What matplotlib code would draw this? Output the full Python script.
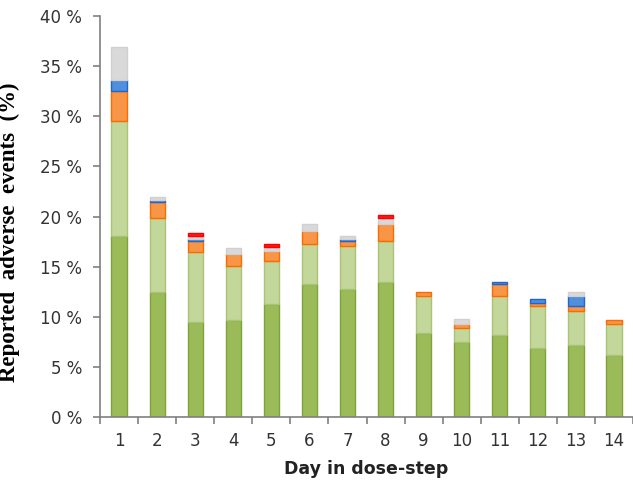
import numpy as np
import matplotlib
matplotlib.use("Agg")
import matplotlib.pyplot as plt
from matplotlib.ticker import FixedLocator

# values (percent of patients, stacked)
days = np.arange(1, 15)
dark_green = [18.1, 12.5, 9.5, 9.7, 11.3, 13.3, 12.8, 13.5, 8.4, 7.5, 8.2, 6.9, 7.2, 6.2]
light_green = [11.4, 7.4, 7.0, 5.4, 4.3, 4.0, 4.3, 4.1, 3.7, 1.4, 3.9, 4.2, 3.4, 3.1]
orange = [3.0, 1.5, 1.1, 1.2, 1.0, 1.3, 0.5, 1.7, 0.4, 0.4, 1.2, 0.3, 0.5, 0.4]
blue = [1.1, 0.2, 0.2, 0.0, 0.0, 0.0, 0.2, 0.0, 0.0, 0.0, 0.2, 0.4, 1.0, 0.0]
grey = [3.3, 0.3, 0.3, 0.6, 0.4, 0.7, 0.3, 0.6, 0.0, 0.5, 0.0, 0.0, 0.4, 0.0]
red = [0.0, 0.0, 0.3, 0.0, 0.3, 0.0, 0.0, 0.3, 0.0, 0.0, 0.0, 0.0, 0.0, 0.0]

series = [
    (dark_green, "#9bbb59", "#7fa33a"),
    (light_green, "#c4d79b", "#a9c477"),
    (orange, "#f79646", "#ff6a00"),
    (blue, "#4f8fdc", "#1f66d0"),
    (grey, "#d9d9d9", "#d0d0d0"),
    (red, "#ff1a1a", "#ff0000"),
]

fig = plt.figure(figsize=(6.33, 4.92), dpi=100)
ax = fig.add_axes([0.158, 0.1524, 0.842, 0.815])

bottom = np.zeros(len(days))
for vals, fc, ec in series:
    vals = np.array(vals)
    keep = vals > 0  # skip empty segments so no stray edges show
    ax.bar(days[keep], vals[keep], width=0.4, bottom=bottom[keep], color=fc,
           edgecolor=ec, linewidth=1.0, zorder=2)
    bottom += vals

ax.set_xlim(0.5, 14.5)
ax.set_ylim(0, 40)

# y axis
ax.set_yticks(np.arange(0, 41, 5))
ax.set_yticklabels([f"{v} %" for v in range(0, 41, 5)], fontsize=12,
                   color="#333333", family="DejaVu Sans")
# x axis: labels at centres, tick marks between days
ax.set_xticks(days)
ax.set_xticklabels([str(d) for d in days], fontsize=12, color="#333333")
ax.tick_params(axis="x", which="major", length=0, pad=11)
ax.xaxis.set_minor_locator(FixedLocator(np.arange(0.5, 15, 1)))
ax.tick_params(axis="x", which="minor", length=5, width=1.2, color="#808080")
ax.tick_params(axis="y", length=5, width=1.2, color="#808080", pad=8)

for s in ["top", "right"]:
    ax.spines[s].set_visible(False)
for s in ["left", "bottom"]:
    ax.spines[s].set_color("#808080")
    ax.spines[s].set_linewidth(1.2)

ax.set_xlabel("Day in dose-step", fontsize=12.5, fontweight="bold",
              color="#222222", labelpad=7)
ax.set_ylabel("Reported  adverse  events  (%)", fontsize=16.5,
              fontweight="bold", family="Liberation Serif")
ax.yaxis.set_label_coords(-0.15, 0.46)

fig.savefig("out.png", dpi=100)
